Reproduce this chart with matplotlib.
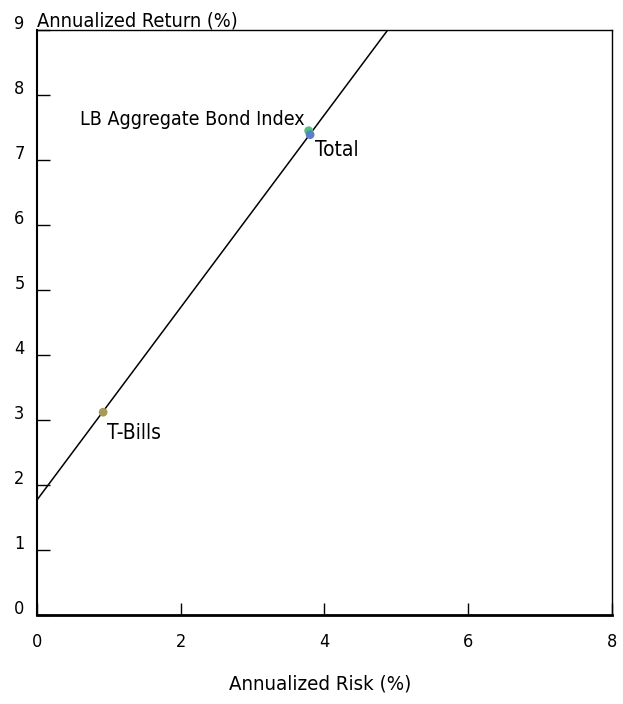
import matplotlib.pyplot as plt
from matplotlib.transforms import ScaledTranslation

plt.rcParams['font.family'] = ['Liberation Sans Narrow', 'DejaVu Sans']
plt.rcParams['font.stretch'] = 'condensed'

# data points (risk %, return %)
names = ['T-Bills', 'LB Aggregate Bond Index', 'Total']
risk = [0.92, 3.78, 3.80]
ret = [3.12, 7.45, 7.39]
colors = ['#a89a55', '#4cc47a', '#5b7fc8']

# capital market line
line_x = [0, 4.88]
line_y = [1.77, 9.0]

xticks = [0, 2, 4, 6, 8]
yticks = [0, 1, 2, 3, 4, 5, 6, 7, 8, 9]

fig = plt.figure(figsize=(6.23, 7.04), dpi=100)
ax = fig.add_axes([0.0594, 0.1264, 0.9229, 0.831])

ax.plot(line_x, line_y, color='black', lw=1.1)
for x, y, c in zip(risk, ret, colors):
    ax.scatter(x, y, s=40, color=c, zorder=3, edgecolors='none')

ax.text(0.98, 2.8, 'T-Bills', fontsize=15, va='center', ha='left')
ax.text(3.73, 7.63, 'LB Aggregate Bond Index', fontsize=14, va='center', ha='right')
ax.text(3.87, 7.15, 'Total', fontsize=15, va='center', ha='left')

ax.set_xlim(0, 8)
ax.set_ylim(0, 9)
ax.set_xticks(xticks)
ax.set_yticks(yticks)
ax.tick_params(direction='in', length=9, width=1, labelsize=13, pad=13)
ax.tick_params(axis='y', pad=9)
for lab in ax.get_yticklabels():
    lab.set_transform(lab.get_transform() + ScaledTranslation(0, 6/72, fig.dpi_scale_trans))

ax.spines['bottom'].set_linewidth(2)
ax.spines['left'].set_linewidth(1.5)
ax.spines['top'].set_linewidth(1)
ax.spines['right'].set_linewidth(1)

fig.text(0.0594, 0.962, 'Annualized Return (%)', fontsize=14.3, ha='left', va='baseline')
fig.text(0.514, 0.02, 'Annualized Risk (%)', fontsize=14.7, ha='center', va='baseline')

fig.savefig('out.png', dpi=100)
